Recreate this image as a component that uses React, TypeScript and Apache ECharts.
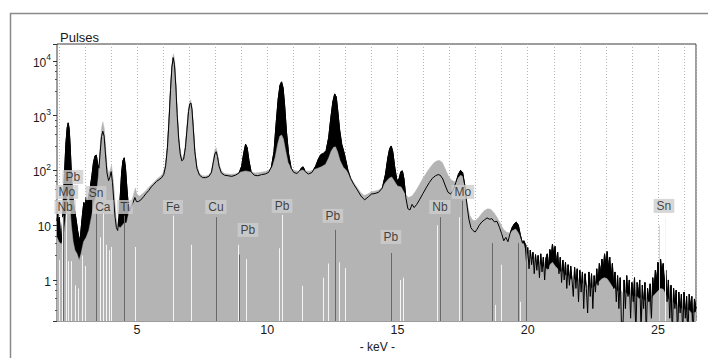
import React, { useEffect, useRef } from "react";
import * as echarts from "echarts";

const FONT = "'Liberation Sans', Arial, sans-serif";

// Energy (keV) and count ranges of the plot
const X_MIN = 1.93;
const X_MAX = 26.46;
const Y_MIN = 0.178;
const Y_MAX = 20400;

// Darker spectrum: [keV, pulses]
const darkSpectrum: [number, number][] = [
  [1.93, 12], [1.96, 16], [1.99, 9], [2.02, 14], [2.06, 7], [2.1, 5], [2.14, 11], [2.18, 35],
  [2.22, 90], [2.27, 300], [2.32, 600], [2.36, 740], [2.4, 560], [2.44, 250], [2.48, 90],
  [2.52, 40], [2.57, 24], [2.62, 17], [2.67, 12], [2.72, 8], [2.77, 6], [2.81, 5], [2.86, 9],
  [2.91, 16], [2.96, 26], [3.01, 22], [3.05, 32], [3.1, 25], [3.15, 35], [3.21, 50], [3.27, 80],
  [3.33, 140], [3.39, 185], [3.44, 190], [3.49, 130], [3.54, 110], [3.59, 220], [3.64, 420],
  [3.69, 520], [3.74, 420], [3.79, 200], [3.85, 90], [3.91, 65], [3.96, 75], [4.01, 95],
  [4.06, 60], [4.11, 28], [4.16, 14], [4.21, 9], [4.26, 8], [4.31, 14], [4.36, 35], [4.41, 90],
  [4.46, 150], [4.51, 170], [4.56, 110], [4.61, 50], [4.66, 25], [4.72, 18], [4.78, 22],
  [4.85, 26], [4.92, 32], [4.98, 27], [5.05, 27], [5.15, 29], [5.25, 33], [5.35, 38],
  [5.45, 43], [5.55, 50], [5.65, 56], [5.75, 63], [5.85, 68], [5.95, 74], [6.03, 85],
  [6.1, 120], [6.17, 260], [6.23, 800], [6.29, 3000], [6.34, 7500], [6.39, 11500],
  [6.44, 8500], [6.49, 3500], [6.54, 1100], [6.6, 380], [6.66, 200], [6.72, 150], [6.79, 160],
  [6.86, 260], [6.92, 550], [6.98, 1200], [7.03, 1650], [7.07, 1700], [7.11, 1300], [7.16, 600],
  [7.22, 220], [7.3, 110], [7.4, 82], [7.52, 74], [7.64, 74], [7.76, 78], [7.86, 92],
  [7.93, 140], [7.99, 200], [8.04, 220], [8.09, 180], [8.15, 120], [8.24, 90], [8.36, 82],
  [8.5, 80], [8.64, 78], [8.78, 82], [8.92, 90], [9.02, 120], [9.1, 210], [9.17, 300],
  [9.23, 260], [9.3, 150], [9.38, 95], [9.5, 82], [9.64, 80], [9.78, 84], [9.92, 86],
  [10.05, 92], [10.16, 115], [10.26, 220], [10.34, 700], [10.42, 2000], [10.49, 3600],
  [10.55, 4150], [10.61, 3200], [10.67, 1500], [10.74, 500], [10.82, 200], [10.92, 110],
  [11.02, 92], [11.14, 88], [11.24, 98], [11.32, 112], [11.38, 116], [11.46, 95], [11.58, 86],
  [11.72, 92], [11.86, 120], [11.96, 160], [12.06, 195], [12.16, 205], [12.26, 230],
  [12.36, 400], [12.44, 900], [12.52, 1800], [12.59, 2500], [12.65, 2200], [12.71, 1200],
  [12.78, 550], [12.86, 300], [12.94, 220], [13.02, 150], [13.1, 100], [13.2, 72], [13.32, 56],
  [13.46, 44], [13.6, 34], [13.74, 29], [13.88, 33], [14.0, 37], [14.14, 38], [14.28, 40],
  [14.42, 48], [14.54, 85], [14.63, 170], [14.7, 250], [14.76, 280], [14.82, 220], [14.9, 110],
  [14.98, 65], [15.06, 70], [15.13, 95], [15.19, 98], [15.25, 70], [15.32, 32], [15.4, 20],
  [15.48, 19], [15.56, 24], [15.64, 21], [15.74, 24], [15.86, 30], [15.98, 38], [16.1, 48],
  [16.22, 60], [16.34, 72], [16.46, 80], [16.56, 84], [16.64, 82], [16.74, 70], [16.84, 52],
  [16.94, 40], [17.04, 37], [17.14, 44], [17.24, 60], [17.34, 85], [17.42, 100], [17.5, 92],
  [17.58, 55], [17.66, 25], [17.74, 13], [17.82, 9], [17.9, 8], [17.98, 7.5], [18.06, 8.5],
  [18.14, 10], [18.24, 11.5], [18.34, 12.5], [18.44, 13.6], [18.54, 12.8], [18.62, 13.2],
  [18.72, 11.5], [18.82, 11.8], [18.92, 9], [19.0, 7], [19.08, 5.2], [19.16, 6], [19.24, 5],
  [19.32, 7], [19.4, 9], [19.48, 10.5], [19.56, 11.4], [19.64, 10], [19.72, 6.5], [19.8, 4.7],
  [19.85, 5.2], [19.9, 4.6], [19.95, 2.2], [20.0, 3.9], [20.05, 1.6], [20.1, 3.5], [20.15, 1.9],
  [20.2, 3.2], [20.25, 1.3], [20.3, 2.9], [20.35, 1.5], [20.4, 2.8], [20.45, 1.1], [20.5, 3.0],
  [20.55, 1.4], [20.6, 2.6], [20.65, 1.0], [20.7, 2.5], [20.75, 3.0], [20.8, 1.6], [20.85, 3.6],
  [20.9, 2.6], [20.95, 4.5], [21.0, 2.8], [21.05, 4.1], [21.1, 1.9], [21.15, 3.2], [21.2, 1.3],
  [21.25, 2.6], [21.3, 0.9], [21.35, 2.3], [21.4, 1.0], [21.45, 2.1], [21.5, 0.7], [21.55, 1.9],
  [21.6, 0.8], [21.65, 1.8], [21.7, 1.0], [21.75, 0.5], [21.8, 1.7], [21.85, 0.7], [21.9, 1.6],
  [21.95, 0.4], [22.0, 1.5], [22.05, 0.6], [22.1, 1.4], [22.15, 0.3], [22.2, 1.3], [22.25, 0.7],
  [22.3, 0.25], [22.35, 1.4], [22.4, 0.5], [22.45, 1.3], [22.5, 0.3], [22.55, 1.2], [22.6, 0.6],
  [22.65, 1.6], [22.7, 0.8], [22.75, 2.0], [22.8, 1.3], [22.85, 2.4], [22.9, 1.5], [22.95, 3.0],
  [23.0, 1.8], [23.05, 3.3], [23.1, 1.6], [23.15, 2.6], [23.2, 1.0], [23.25, 2.0], [23.3, 0.7],
  [23.35, 1.4], [23.4, 0.4], [23.45, 1.2], [23.5, 0.3], [23.55, 1.1], [23.6, 0.15], [23.65, 0.1],
  [23.7, 1.0], [23.75, 0.3], [23.8, 1.2], [23.85, 0.5], [23.9, 1.0], [23.95, 0.2], [24.0, 0.9],
  [24.05, 0.4], [24.1, 1.1], [24.15, 0.1], [24.2, 0.9], [24.25, 0.5], [24.3, 1.0], [24.35, 0.12],
  [24.4, 0.8], [24.45, 0.3], [24.5, 0.9], [24.55, 0.1], [24.6, 0.7], [24.65, 0.4], [24.7, 0.85],
  [24.75, 0.2], [24.8, 1.1], [24.85, 0.6], [24.9, 1.5], [24.95, 0.9], [25.0, 2.1], [25.05, 1.1],
  [25.1, 2.4], [25.15, 1.3], [25.2, 2.0], [25.25, 0.8], [25.3, 1.5], [25.35, 0.4], [25.4, 1.0],
  [25.45, 0.2], [25.5, 0.8], [25.55, 0.1], [25.6, 0.7], [25.65, 0.3], [25.7, 0.65], [25.75, 0.1],
  [25.8, 0.6], [25.85, 0.25], [25.9, 0.55], [25.95, 0.1], [26.0, 0.6], [26.05, 0.2], [26.1, 0.5],
  [26.15, 0.1], [26.2, 0.55], [26.25, 0.3], [26.3, 0.5], [26.35, 0.1], [26.4, 0.45], [26.46, 0.3],
];

// Lighter spectrum: [keV, pulses]
const greySpectrum: [number, number][] = [
  [1.93, 6], [2.0, 5], [2.1, 4.5], [2.18, 6], [2.25, 12], [2.32, 30], [2.37, 38], [2.42, 25],
  [2.48, 10], [2.55, 5], [2.62, 3.5], [2.7, 3], [2.78, 2.3], [2.85, 3], [2.95, 5], [3.05, 6],
  [3.15, 8], [3.25, 14], [3.35, 25], [3.44, 35], [3.52, 80], [3.58, 250], [3.64, 600],
  [3.69, 770], [3.74, 600], [3.8, 260], [3.86, 110], [3.92, 90], [3.97, 100], [4.02, 125],
  [4.07, 85], [4.13, 40], [4.2, 14], [4.28, 9.5], [4.36, 9], [4.44, 10], [4.51, 11], [4.6, 11],
  [4.7, 18], [4.8, 28], [4.88, 38], [4.94, 48], [5.0, 36], [5.1, 34], [5.2, 37], [5.3, 41],
  [5.4, 46], [5.5, 52], [5.6, 58], [5.7, 65], [5.8, 72], [5.9, 78], [5.98, 86], [6.06, 110],
  [6.13, 180], [6.2, 500], [6.26, 1800], [6.31, 5000], [6.36, 10500], [6.4, 13500],
  [6.44, 11000], [6.49, 4500], [6.54, 1400], [6.6, 450], [6.66, 230], [6.72, 170], [6.78, 175],
  [6.85, 280], [6.91, 600], [6.97, 1300], [7.02, 1800], [7.06, 1950], [7.11, 1500], [7.16, 700],
  [7.22, 250], [7.3, 120], [7.4, 88], [7.52, 80], [7.64, 79], [7.76, 83], [7.86, 100],
  [7.93, 160], [7.99, 240], [8.04, 260], [8.09, 210], [8.15, 135], [8.24, 98], [8.36, 88],
  [8.5, 86], [8.64, 85], [8.78, 87], [8.92, 92], [9.04, 95], [9.16, 98], [9.28, 96], [9.4, 93],
  [9.54, 90], [9.68, 92], [9.82, 94], [9.96, 97], [10.08, 102], [10.2, 118], [10.3, 170],
  [10.4, 300], [10.48, 420], [10.55, 445], [10.62, 380], [10.7, 240], [10.8, 140], [10.92, 108],
  [11.06, 100], [11.2, 97], [11.34, 102], [11.48, 98], [11.62, 97], [11.78, 103], [11.94, 110],
  [12.1, 118], [12.24, 130], [12.36, 170], [12.46, 230], [12.55, 265], [12.62, 270],
  [12.7, 220], [12.8, 150], [12.92, 115], [13.04, 100], [13.16, 80], [13.3, 62], [13.44, 50],
  [13.58, 40], [13.72, 35], [13.86, 37], [14.0, 41], [14.14, 42], [14.28, 44], [14.42, 50],
  [14.56, 62], [14.68, 72], [14.78, 76], [14.88, 64], [15.0, 52], [15.14, 50], [15.28, 38],
  [15.42, 32], [15.56, 34], [15.7, 42], [15.84, 55], [15.98, 72], [16.12, 92], [16.26, 115],
  [16.4, 138], [16.52, 150], [16.62, 152], [16.72, 140], [16.84, 105], [16.96, 78], [17.08, 66],
  [17.2, 62], [17.32, 72], [17.42, 82], [17.5, 78], [17.58, 50], [17.68, 24], [17.78, 15],
  [17.88, 12.5], [17.98, 12], [18.1, 13.5], [18.22, 16], [18.34, 18.5], [18.46, 20],
  [18.58, 19.5], [18.7, 17], [18.82, 14], [18.94, 11], [19.06, 8.5], [19.18, 7.5], [19.3, 7.2],
  [19.42, 8], [19.54, 8.5], [19.66, 7], [19.78, 5], [19.85, 4.5], [19.95, 3.0], [20.05, 3.1],
  [20.15, 2.3], [20.25, 2.6], [20.35, 1.8], [20.45, 2.1], [20.55, 1.7], [20.65, 1.8],
  [20.75, 1.5], [20.85, 1.9], [20.95, 2.1], [21.05, 1.8], [21.15, 1.6], [21.25, 1.4],
  [21.35, 1.45], [21.45, 1.2], [21.55, 1.25], [21.65, 1.0], [21.75, 1.1], [21.85, 0.95],
  [21.95, 1.0], [22.05, 0.85], [22.15, 0.9], [22.25, 0.75], [22.35, 0.85], [22.45, 0.7],
  [22.55, 0.75], [22.65, 0.85], [22.75, 0.95], [22.85, 1.05], [22.95, 1.1], [23.05, 1.05],
  [23.15, 0.9], [23.25, 0.75], [23.35, 0.7], [23.45, 0.62], [23.55, 0.66], [23.65, 0.58],
  [23.75, 0.6], [23.85, 0.53], [23.95, 0.56], [24.05, 0.5], [24.08, 0.18], [24.11, 0.5],
  [24.2, 0.5], [24.28, 0.45], [24.35, 0.48], [24.38, 0.15], [24.41, 0.46], [24.5, 0.42],
  [24.58, 0.45], [24.67, 0.4], [24.7, 0.18], [24.73, 0.44], [24.8, 0.5], [24.9, 0.56],
  [25.0, 0.63], [25.1, 0.7], [25.2, 0.68], [25.3, 0.54], [25.4, 0.45], [25.48, 0.4],
  [25.51, 0.14], [25.54, 0.4], [25.65, 0.37], [25.75, 0.33], [25.78, 0.12], [25.81, 0.33],
  [25.9, 0.3], [26.0, 0.3], [26.06, 0.28], [26.09, 0.13], [26.12, 0.28], [26.2, 0.28],
  [26.28, 0.25], [26.31, 0.12], [26.34, 0.25], [26.46, 0.26],
];

// Emission line markers: [keV, line height in pulses, tone (0 dark, 1 white, 2 pale)]
const lineMarkers: [number, number, number][] = [
  [2.01, 2.3, 1], [2.12, 14, 1], [2.17, 15, 0], [2.29, 16, 1], [2.35, 2.2, 1], [2.46, 2.2, 1],
  [2.62, 0.8, 1], [2.75, 0.7, 1], [2.88, 2.8, 1], [3.02, 1.8, 1], [3.44, 17, 0], [3.58, 6, 1],
  [3.69, 17, 1], [3.81, 4.4, 1], [3.93, 3.5, 1], [4.01, 4, 1], [4.51, 15, 0], [4.93, 4, 1],
  [6.4, 15, 1], [7.06, 4.4, 1], [8.04, 14, 0], [8.87, 4.4, 1], [8.91, 2.9, 0], [9.18, 2.4, 1],
  [10.45, 3.8, 1], [10.55, 15.4, 1], [11.35, 0.78, 1], [12.15, 1.1, 1], [12.32, 2.0, 1],
  [12.61, 8.2, 0], [12.75, 2.1, 1], [12.98, 1.65, 1], [14.76, 3.1, 0], [15.1, 1.0, 1],
  [15.2, 1.1, 1], [16.52, 10, 1], [16.62, 14, 0], [17.37, 14, 1], [17.48, 28, 0],
  [18.62, 4.7, 0], [18.75, 0.35, 1], [18.96, 1.9, 1], [19.61, 4.7, 0], [19.72, 0.4, 1],
  [19.95, 4.4, 0], [25.04, 10, 2], [25.27, 14, 1],
];

// Element tags: [symbol, keV, pulses at tag centre]
const elementLabels: [string, number, number][] = [
  ["Pb", 2.54, 76], ["Mo", 2.31, 40.5], ["Nb", 2.24, 21.5], ["Sn", 3.43, 38.8],
  ["Ca", 3.69, 21.5], ["Ti", 4.54, 21.5], ["Fe", 6.38, 21.5], ["Cu", 8.03, 21.5],
  ["Pb", 9.26, 8.2], ["Pb", 10.57, 22.5], ["Pb", 12.52, 14.8], ["Pb", 14.75, 6.1],
  ["Nb", 16.63, 21.5], ["Mo", 17.51, 40.5], ["Sn", 25.23, 22.5],
];

const X_LABEL_STEP = 5;
const X_TICK_START = 2;

const GRID = { left: 57, top: 44, right: 12, bottom: 37 };
const PLOT_W = 708 - GRID.left - GRID.right;
const TICK_OFFSET = ((X_TICK_START - X_MIN) / (X_MAX - X_MIN)) * PLOT_W;

function yLabel(v: number): string {
  const lg = Math.log10(v);
  const e = Math.round(lg);
  if (Math.abs(lg - e) > 1e-6) return "";
  if (e === 0) return "{b|1}";
  if (e === 1) return "{b|10}";
  return `{b|10}{s|${e}}`;
}

export default function App() {
  const ref = useRef<HTMLDivElement>(null);

  useEffect(() => {
    if (!ref.current) return;
    const chart = echarts.init(ref.current, undefined, { renderer: "svg" });
    const toneColor = ["#686868", "#f4f4f4", "#d6d6d6"];

    chart.setOption({
      animation: false,
      backgroundColor: "#ffffff",
      textStyle: { fontFamily: FONT },
      grid: [
        { ...GRID, show: true, borderColor: "#3c3c3c", borderWidth: 1, backgroundColor: "transparent" },
        { left: GRID.left + TICK_OFFSET, top: GRID.top, right: GRID.right, bottom: GRID.bottom, show: false },
      ],
      xAxis: [
        {
          type: "value",
          gridIndex: 0,
          min: X_MIN,
          max: X_MAX,
          axisLine: { show: false },
          axisTick: { show: false },
          axisLabel: { show: false },
          splitLine: { show: false },
        },
        {
          type: "value",
          gridIndex: 1,
          min: X_TICK_START,
          max: X_MAX,
          interval: 1,
          axisLine: { show: true, lineStyle: { color: "#3c3c3c", width: 1 } },
          axisTick: { show: true, length: 3, lineStyle: { color: "#444" } },
          axisLabel: {
            fontSize: 12.5,
            color: "#1a1a1a",
            fontFamily: FONT,
            margin: 7,
            showMaxLabel: false,
            formatter: (v: number) => (Math.abs(v % X_LABEL_STEP) < 1e-9 ? String(v) : ""),
          },
          splitLine: { show: true, lineStyle: { color: "#b5b5b5", width: 1, type: [1, 2] } },
          name: "- keV -",
          nameLocation: "middle",
          nameGap: 22,
          nameTextStyle: { fontSize: 12, color: "#1a1a1a", fontFamily: FONT },
        },
      ],
      yAxis: [
        {
          type: "log",
          logBase: 10,
          gridIndex: 0,
          min: Y_MIN,
          max: Y_MAX,
          axisLine: { show: false },
          axisTick: { show: true, length: 4, lineStyle: { color: "#333" } },
          minorTick: { show: true, splitNumber: 5, length: 2, lineStyle: { color: "#555" } },
          axisLabel: {
            margin: 6,
            showMinLabel: false,
            showMaxLabel: false,
            formatter: yLabel,
            rich: {
              b: { fontSize: 12, color: "#1a1a1a", fontFamily: FONT, lineHeight: 16, verticalAlign: "bottom" },
              s: { fontSize: 8.5, color: "#1a1a1a", fontFamily: FONT, lineHeight: 9, verticalAlign: "top" },
            },
          },
          splitLine: { show: false },
        },
        { type: "value", gridIndex: 1, show: false },
      ],
      graphic: [
        {
          type: "rect",
          shape: { x: 10.5, y: 13.5, width: 800, height: 400 },
          style: { fill: "none", stroke: "#8a8a8a", lineWidth: 1.5 },
          silent: true,
        },
        {
          type: "text",
          x: 60,
          y: 37,
          style: { text: "Pulses", fontSize: 13, fill: "#1a1a1a", fontFamily: FONT, textVerticalAlign: "middle" },
        },
      ],
      series: [
        {
          type: "line",
          xAxisIndex: 0,
          yAxisIndex: 0,
          data: darkSpectrum,
          showSymbol: false,
          lineStyle: { color: "#000", width: 1 },
          areaStyle: { color: "#000", opacity: 1 },
          z: 2,
        },
        {
          type: "line",
          xAxisIndex: 0,
          yAxisIndex: 0,
          data: greySpectrum,
          showSymbol: false,
          lineStyle: { color: "#b4b4b4", width: 0.5 },
          areaStyle: { color: "#b4b4b4", opacity: 1 },
          z: 3,
        },
        {
          type: "line",
          xAxisIndex: 0,
          yAxisIndex: 0,
          data: darkSpectrum,
          showSymbol: false,
          lineStyle: { color: "#000", width: 1 },
          z: 4,
        },
        {
          type: "custom",
          xAxisIndex: 0,
          yAxisIndex: 0,
          data: lineMarkers,
          z: 5,
          renderItem: (_params: any, api: any) => {
            const e = api.value(0);
            const top = api.coord([e, api.value(1)]);
            const base = api.coord([e, Y_MIN]);
            const x = Math.round(top[0]) + 0.5;
            return {
              type: "line",
              shape: { x1: x, y1: base[1], x2: x, y2: top[1] },
              style: { stroke: toneColor[api.value(2)], lineWidth: 1 },
            };
          },
        },
        {
          type: "scatter",
          xAxisIndex: 0,
          yAxisIndex: 0,
          z: 6,
          symbolSize: 1,
          itemStyle: { color: "rgba(0,0,0,0)" },
          data: elementLabels.map(([name, kev, level]) => ({ name, value: [kev, level] })),
          label: {
            show: true,
            position: "inside",
            formatter: (p: any) => p.name,
            fontSize: 12,
            lineHeight: 13,
            color: "#1a1a1a",
            fontFamily: FONT,
            backgroundColor: "#cdcdcd",
            padding: [1, 3, 0, 3],
          },
        },
      ],
    });

    return () => chart.dispose();
  }, []);

  return (
    <div
      ref={ref}
      style={{ position: "absolute", left: 0, top: 0, width: 708, height: 358, background: "#fff" }}
    />
  );
}
